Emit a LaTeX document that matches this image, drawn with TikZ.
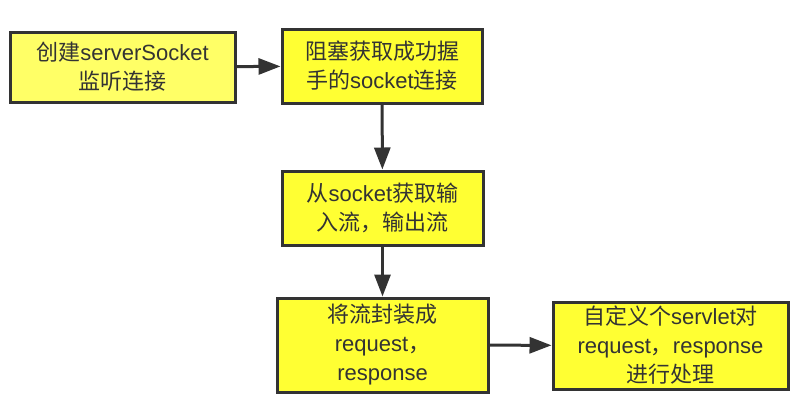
\documentclass[tikz,border=0pt]{standalone}
\usepackage{fontspec}
\setmainfont{Liberation Sans}
\newfontfamily\cjk{Noto Sans CJK SC}
\usepackage{tikz}
\usetikzlibrary{arrows.meta}

\definecolor{boxline}{HTML}{333333}
\definecolor{boxfill}{HTML}{FFFF33}
\definecolor{boxfillpale}{HTML}{FFFF66}

\begin{document}
\begin{tikzpicture}[x=1pt, y=-1pt,
    flowbox/.style={rectangle, draw=boxline, line width=3pt, fill=boxfill,
        text=boxline, align=center, inner sep=0pt,
        font=\fontsize{22}{29}\selectfont},
    flowarrow/.style={draw=boxline, line width=3pt,
        -{Triangle[length=22pt, width=16pt]}}]
        \useasboundingbox (0,0) rectangle (811,408);

        % Nodes
        \node[flowbox, fill=boxfillpale, minimum width=225pt, minimum height=70pt] (create) at (122.5, 67)
            {{\cjk 创建}serverSocket\\{\cjk 监听连接}};
        \node[flowbox, minimum width=200pt, minimum height=74pt] (accept) at (382, 66)
            {{\cjk 阻塞获取成功握}\\{\cjk 手的}socket{\cjk 连接}};
        \node[flowbox, minimum width=201pt, minimum height=74pt] (stream) at (382.5, 208)
            {{\cjk 从}socket{\cjk 获取输}\\{\cjk 入流，输出流}};
        \node[flowbox, minimum width=211pt, minimum height=94pt] (wrap) at (382.5, 345)
            {{\cjk 将流封装成}\\request{\cjk ，}\\response};
        \node[flowbox, minimum width=235pt, minimum height=87pt] (servlet) at (670.5, 345.5)
            {{\cjk 自定义个}servlet{\cjk 对}\\request{\cjk ，}response\\{\cjk 进行处理}};

        % Edges
        \draw[flowarrow] (create) -- (accept);
        \draw[flowarrow] (accept) -- (stream);
        \draw[flowarrow] (stream) -- (wrap);
        \draw[flowarrow] (wrap) -- (servlet);
    \end{tikzpicture}
\end{document}
